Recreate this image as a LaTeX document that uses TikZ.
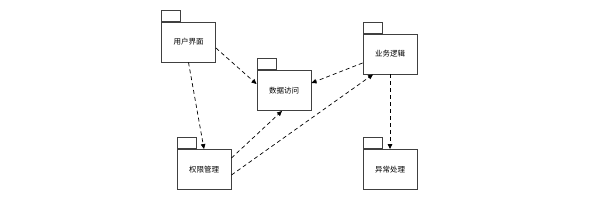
\documentclass[tikz,border=0pt]{standalone}
\usepackage{fontspec}
\newfontfamily\cjk{Noto Sans CJK SC}
\usetikzlibrary{arrows.meta,calc}
\tikzset{
    pkg/.style={draw=black!75,line width=0.9pt,fill=white,minimum width=54pt,minimum height=40pt,inner sep=0pt,font=\cjk\fontsize{7.5}{9}\selectfont},
    tab/.style={draw=black!75,line width=0.9pt,fill=white,minimum width=19pt,minimum height=11pt,inner sep=0pt,anchor=south west},
    dep/.style={-{Triangle[length=5pt,width=4.5pt]},dash pattern=on 4pt off 3pt,line width=0.7pt}
}
\begin{document}
\begin{tikzpicture}[x=1pt,y=-1pt]
    \useasboundingbox (0,0) rectangle (610,210);
    \node[pkg] (ui) at (188.5,42) {用户界面};
    \node[pkg] (da) at (284,90.5) {数据访问};
    \node[pkg] (bl) at (390,54) {业务逻辑};
    \node[pkg] (pm) at (204,169.5) {权限管理};
    \node[pkg] (ex) at (390,169.5) {异常处理};
    \foreach \p in {ui,da,bl,pm,ex}
        \node[tab] (\p tab) at (\p.north west) {};
    \draw[dep] ($(ui.east)+(0,6)$)--($(da.west)+(0,-6.5)$);
    \draw[dep] (ui.south)--(pm.north);
    \draw[dep] ($(bl.west)+(0,9)$)--($(da.east)+(0,-7.5)$);
    \draw[dep] ($(pm.east)+(0,-11.5)$)--($(da.south)+(-2,0)$);
    \draw[dep] ($(pm.east)+(0,5.5)$)--($(bl.south)+(-17,0)$);
    \draw[dep] (bl.south)--(ex.north);
\end{tikzpicture}
\end{document}
